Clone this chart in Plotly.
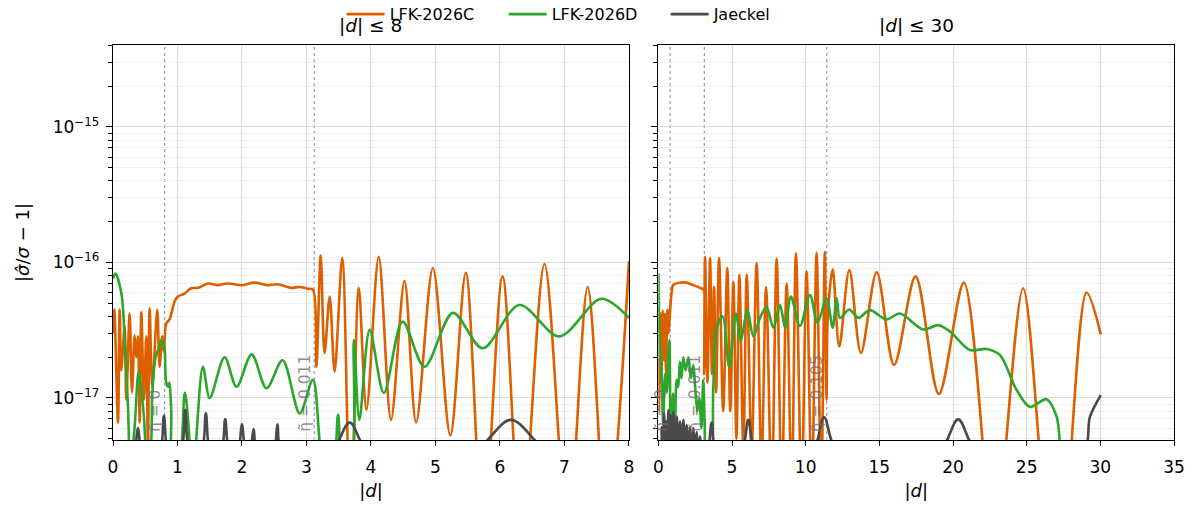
import plotly.graph_objects as go

# ---------------- data: left panel (|d| <= 8) ----------------
d_C_L = [0.0, 0.02, 0.077, 0.103, 0.129, 0.181, 0.206, 0.258, 0.294, 0.335,
         0.361, 0.387, 0.413, 0.439, 0.48, 0.516, 0.542, 0.568, 0.609, 0.686,
         0.722, 0.764, 0.789, 0.826, 0.877, 0.955, 1.006, 1.11, 1.21, 1.32,
         1.47, 1.62, 1.78, 1.99, 2.19, 2.4, 2.55, 2.76, 2.9, 3.02,
         3.10, 3.153, 3.22, 3.28, 3.36, 3.436, 3.555, 3.684, 3.81, 3.93,
         4.12, 4.31, 4.52, 4.70, 4.96, 5.23, 5.47, 5.74, 6.04, 6.33,
         6.69, 7.05, 7.36, 7.66, 8.0]
err_C_L = [3.0e-17, 4.5e-17, 6.6e-18, 4.5e-17, 1.6e-17, 3.4e-17, 9.7e-18, 4.2e-17, 1.1e-17, 2.9e-17,
           2.0e-17, 2.85e-17, 6.6e-18, 4.3e-17, 9.7e-18, 2.85e-17, 4.0e-18, 4.6e-17, 1.2e-17, 4.5e-17,
           1.7e-17, 2.85e-17, 2.2e-17, 3.55e-17, 3.8e-17, 5.15e-17, 5.6e-17, 5.9e-17, 6.45e-17, 6.5e-17,
           7.0e-17, 6.8e-17, 7.0e-17, 6.8e-17, 7.1e-17, 6.8e-17, 6.9e-17, 6.5e-17, 6.6e-17, 6.4e-17,
           6.3e-17, 1.7e-17, 1.13e-16, 2.15e-17, 5.6e-17, 1.56e-17, 1.08e-16, 1.0e-18, 6.5e-17, 8.2e-18,
           1.1e-16, 6.9e-18, 7.3e-17, 6.6e-18, 9.1e-17, 5.3e-18, 8.4e-17, 1.0e-18, 7.9e-17, 1.0e-18,
           9.8e-17, 1.0e-18, 6.6e-17, 1.0e-18, 1.02e-16]

d_D_L = [0.0, 0.036, 0.129, 0.181, 0.232, 0.27, 0.335, 0.397, 0.439, 0.48,
         0.53, 0.568, 0.609, 0.66, 0.722, 0.748, 0.789, 0.826, 0.862, 0.877,
         0.903, 0.93, 1.01, 1.115, 1.24, 1.393, 1.50, 1.73, 1.915, 2.15,
         2.38, 2.63, 2.895, 3.10, 3.28, 3.40, 3.49, 3.57, 3.68, 3.735,
         3.82, 3.98, 4.20, 4.49, 4.83, 5.27, 5.73, 6.30, 6.92, 7.57, 8.0]
err_D_L = [7.6e-17, 8.3e-17, 5.95e-17, 2.68e-17, 8.6e-18, 3.0e-18, 6.1e-18, 1.56e-17, 1.15e-17, 7.2e-18,
           4.0e-18, 4.0e-18, 1.08e-17, 2.0e-17, 2.4e-17, 2.68e-17, 2.55e-17, 1.29e-17, 1.21e-17, 1.3e-17,
           8.0e-18, 3.0e-18, 3.0e-18, 1.09e-17, 3.0e-18, 1.7e-17, 1.0e-17, 2.0e-17, 1.21e-17, 2.1e-17,
           1.18e-17, 1.9e-17, 7.7e-18, 1.36e-17, 3.0e-18, 3.0e-18, 7.5e-18, 3.0e-18, 3.0e-18, 2.68e-17,
           6.9e-18, 3.18e-17, 1.09e-17, 3.66e-17, 1.7e-17, 4.25e-17, 2.33e-17, 4.85e-17, 2.85e-17, 5.4e-17, 3.9e-17]

d_J_L = [0.0, 0.31, 0.387, 0.46, 0.715, 0.789, 0.865, 1.045, 1.12, 1.195,
         1.365, 1.44, 1.515, 1.67, 1.74, 1.81, 1.93, 1.997, 2.065, 2.12,
         2.18, 2.24, 2.48, 2.55, 2.62, 3.37, 3.67, 3.97, 5.57, 6.17, 6.77, 8.0]
err_J_L = [4e-18, 4e-18, 6.0e-18, 4e-18, 4e-18, 7.4e-18, 4e-18, 4e-18, 8.15e-18, 4e-18,
           4e-18, 7.7e-18, 4e-18, 4e-18, 7.0e-18, 4e-18, 4e-18, 6.4e-18, 4e-18, 4e-18,
           5.9e-18, 4e-18, 4e-18, 6.4e-18, 4e-18, 4e-18, 6.6e-18, 4e-18, 4e-18, 6.9e-18, 4e-18, 4e-18]

# ---------------- data: right panel (|d| <= 30) ----------------
d_C_R = [0.0, 0.03, 0.12, 0.2, 0.3, 0.38, 0.45, 0.52, 0.61, 0.7,
         0.79, 0.9, 1.02, 1.47, 1.9, 2.3, 2.83, 3.06, 3.10, 3.17,
         3.33, 3.51, 3.64, 3.78, 3.92, 4.12, 4.4, 4.68, 4.88, 5.09,
         5.3, 5.5, 5.77, 6.0, 6.33, 6.67, 7.0, 7.31, 7.69, 8.03,
         8.37, 8.71, 9.05, 9.34, 9.72, 10.06, 10.41, 10.74, 11.05, 11.3,
         11.42, 11.5, 11.83, 12.28, 12.96, 13.75, 14.82, 16.0, 17.46, 19.04,
         20.74, 22.6, 22.8, 23.0, 24.76, 26.46, 27.0, 27.5, 29.06, 30.03]
err_C_R = [2.0e-17, 8.0e-18, 4.2e-17, 1.3e-17, 4.4e-17, 1.9e-17, 4.2e-17, 1.5e-17, 4.5e-17, 3.0e-17,
           4.3e-17, 6.0e-17, 6.85e-17, 7.1e-17, 7.1e-17, 6.85e-17, 6.5e-17, 6.3e-17, 1.5e-17, 1.1e-16,
           1.3e-17, 1.08e-16, 1.5e-17, 6.6e-17, 1.1e-17, 1.08e-16, 8.0e-18, 9.1e-17, 8.0e-18, 7.2e-17,
           5.0e-18, 8.1e-17, 4.0e-18, 8.1e-17, 4.0e-18, 9.9e-17, 3.0e-18, 6.6e-17, 2.0e-18, 1.07e-16,
           2.0e-18, 7.0e-17, 2.0e-18, 1.17e-16, 2.0e-18, 8.6e-17, 2.0e-18, 1.18e-16, 2.0e-18, 1.2e-16,
           9.7e-18, 4.0e-17, 8.9e-17, 2.4e-17, 8.8e-17, 2.15e-17, 8.5e-17, 1.75e-17, 7.9e-17, 1.07e-17,
           7.1e-17, 1.0e-18, 3.0e-18, 1.0e-18, 6.45e-17, 1.0e-18, 3.0e-18, 1.0e-18, 6.0e-17, 2.95e-17]

d_D_R = [0.0, 0.08, 0.16, 0.25, 0.33, 0.45, 0.57, 0.68, 0.75, 0.84,
         1.0, 1.12, 1.24, 1.35, 1.46, 1.57, 1.69, 1.85, 2.04, 2.2,
         2.37, 2.5, 2.65, 2.78, 2.92, 3.05, 3.15, 3.28, 3.5, 3.73,
         3.96, 4.37, 4.8, 5.27, 5.59, 6.04, 6.45, 6.9, 7.35, 7.8,
         8.26, 8.6, 9.0, 9.61, 10.29, 10.8, 11.42, 11.83, 12.1, 12.33,
         12.96, 13.57, 14.36, 15.49, 16.4, 17.98, 19.0, 19.79, 21.15, 22.28,
         23.18, 24.31, 25.22, 26.35, 27.03, 27.5, 28.5, 30.0]
err_D_R = [8.3e-17, 3.0e-17, 1.9e-17, 1.1e-17, 6.5e-18, 1.5e-17, 1.1e-17, 2.2e-17, 2.68e-17, 5.0e-18,
           1.08e-17, 6.0e-18, 1.36e-17, 1.2e-17, 1.85e-17, 1.4e-17, 2.0e-17, 1.6e-17, 2.0e-17, 1.4e-17,
           1.75e-17, 1.2e-17, 8.0e-18, 1.0e-17, 6.0e-18, 1.36e-17, 6.0e-18, 2.0e-18, 2.0e-18, 1.2e-17,
           3.3e-17, 4.0e-17, 1.7e-17, 4.2e-17, 2.68e-17, 4.4e-17, 2.85e-17, 3.9e-17, 4.7e-17, 3.3e-17,
           4.85e-17, 3.3e-17, 5.6e-17, 3.4e-17, 5.75e-17, 3.6e-17, 5.45e-17, 3.3e-17, 5.45e-17, 3.9e-17,
           4.5e-17, 3.9e-17, 4.45e-17, 3.8e-17, 4.2e-17, 3.2e-17, 3.45e-17, 3.1e-17, 2.26e-17, 2.3e-17,
           2.08e-17, 1.15e-17, 8.6e-18, 9.8e-18, 7.3e-18, 3.0e-18, 2.0e-18, 2.0e-18]

d_J_R = [0.0, 0.15, 0.23, 0.31, 0.39, 0.455, 0.52, 0.6, 0.68, 0.76,
         0.84, 0.93, 1.02, 1.135, 1.25, 1.36, 1.47, 1.585, 1.7, 1.81,
         1.92, 2.035, 2.15, 2.265, 2.38, 2.49, 2.6, 2.715, 2.83, 2.95,
         3.3, 3.62, 3.95, 5.6, 6.11, 6.65, 10.4, 11.25, 12.2, 19.0,
         20.35, 21.7, 28.8, 29.3, 30.03]
err_J_R = [4e-18, 4e-18, 6.1e-18, 4e-18, 7.7e-18, 4e-18, 6.7e-18, 4e-18, 8.15e-18, 4e-18,
           7.5e-18, 4e-18, 7.9e-18, 4e-18, 7.3e-18, 4e-18, 6.7e-18, 4e-18, 6.9e-18, 4e-18,
           6.3e-18, 4e-18, 6.1e-18, 4e-18, 6.0e-18, 4e-18, 5.6e-18, 4e-18, 5.2e-18, 4e-18,
           4e-18, 6.6e-18, 4e-18, 4e-18, 6.9e-18, 4e-18, 4e-18, 7.2e-18, 4e-18, 4e-18,
           6.95e-18, 4e-18, 4e-18, 7.3e-18, 1.05e-17]

# markers of eta values
eta_d_L = [0.80, 3.12]
eta_lab_L = ["η̃ = 0", "η̃ = 0.011"]
eta_d_R = [0.80, 3.12, 11.43]
eta_lab_R = ["η̃ = 0", "η̃ = 0.011", "η̃ = 0.105"]

series_names = ["LFK-2026C", "LFK-2026D", "Jaeckel"]
colors = ["#dd5f00", "#2ca62c", "#4a4a4a"]

y_major = [1e-17, 1e-16, 1e-15]
y_major_text = ["10<sup>−17</sup>", "10<sup>−16</sup>", "10<sup>−15</sup>"]
y_minor = [m * 10.0 ** e for e in (-18, -17, -16, -15) for m in range(2, 10)]

FONT = "DejaVu Sans"
TICK = 17
fig = go.Figure()

left = [(d_C_L, err_C_L), (d_D_L, err_D_L), (d_J_L, err_J_L)]
right = [(d_C_R, err_C_R), (d_D_R, err_D_R), (d_J_R, err_J_R)]

for i, (xs, ys) in enumerate(left):
    fig.add_trace(go.Scatter(x=xs, y=ys, mode="lines", name=series_names[i],
                             line=dict(color=colors[i], width=2.6, shape="spline", smoothing=0.9),
                             xaxis="x", yaxis="y", legendgroup=series_names[i]))
for i, (xs, ys) in enumerate(right):
    fig.add_trace(go.Scatter(x=xs, y=ys, mode="lines", name=series_names[i], showlegend=False,
                             line=dict(color=colors[i], width=2.6, shape="spline", smoothing=0.9),
                             xaxis="x2", yaxis="y2", legendgroup=series_names[i]))

common = dict(showline=True, linecolor="black", linewidth=1.4, mirror=True,
              ticks="outside", tickwidth=1.1, tickcolor="black",
              showgrid=True, gridcolor="#dcdcdc", gridwidth=1, zeroline=False,
              tickfont=dict(family=FONT, size=TICK, color="black"))

xtitle = dict(text="|<i>d</i>|", font=dict(family=FONT, size=18, color="black"), standoff=8)

yaxis_common = dict(type="log", range=[-17.31, -14.395], tickmode="array",
                    tickvals=y_major, ticktext=y_major_text, ticklen=6, ticklabelstandoff=3,
                    minor=dict(tickmode="array", tickvals=y_minor, ticks="outside", ticklen=4,
                               tickcolor="black", tickwidth=0.9, showgrid=True,
                               gridcolor="#efefef", gridwidth=1))

shapes = []
annotations = []
for xr, ds, labs in (("x", eta_d_L, eta_lab_L), ("x2", eta_d_R, eta_lab_R)):
    yr = "y domain" if xr == "x" else "y2 domain"
    for dv, lab in zip(ds, labs):
        shapes.append(dict(type="line", xref=xr, yref=yr, x0=dv, x1=dv, y0=0, y1=1,
                           line=dict(color="#9a9a9a", width=1.2, dash="dot"), layer="below"))
        annotations.append(dict(x=dv, xref=xr, y=0, yref=yr, text=lab, showarrow=False,
                                textangle=-90, xanchor="right", yanchor="bottom",
                                xshift=1, yshift=6,
                                font=dict(family=FONT, size=15.5, color="rgba(110,110,110,0.8)")))

annotations.append(dict(x=0.2431, xref="paper", y=1, yref="paper", text="|<i>d</i>| ≤ 8",
                        showarrow=False, xanchor="center", yanchor="bottom", yshift=7,
                        font=dict(family=FONT, size=18.5, color="black")))
annotations.append(dict(x=0.757, xref="paper", y=1, yref="paper", text="|<i>d</i>| ≤ 30",
                        showarrow=False, xanchor="center", yanchor="bottom", yshift=7,
                        font=dict(family=FONT, size=18.5, color="black")))

fig.update_layout(
    width=1199, height=510,
    margin=dict(l=113, r=25, t=45, b=70, autoexpand=False),
    paper_bgcolor="white", plot_bgcolor="white",
    font=dict(family=FONT, size=TICK, color="black"),
    xaxis=dict(domain=[0, 0.4863], range=[0, 8], tickmode="linear", tick0=0, dtick=1,
               anchor="y", title=xtitle, ticklen=5, ticklabelstandoff=6, **common),
    xaxis2=dict(domain=[0.514, 1], range=[0, 35], tickmode="linear", tick0=0, dtick=5,
                anchor="y2", title=xtitle, ticklen=5, ticklabelstandoff=6, **common),
    yaxis=dict(anchor="x", title=dict(text="|<i>σ̂</i>/<i>σ</i> − 1|",
                                     font=dict(family=FONT, size=18, color="black"), standoff=18),
               **yaxis_common, **common),
    yaxis2=dict(anchor="x2", matches="y", showticklabels=False,
                **yaxis_common, **common),
    legend=dict(orientation="h", x=0.2155, xanchor="left", y=1.078, yanchor="middle",
                bgcolor="rgba(0,0,0,0)", font=dict(family=FONT, size=16, color="black"),
                itemwidth=38, entrywidth=109, entrywidthmode="pixels"),
    shapes=shapes, annotations=annotations,
)

# remove the default page margin so the 1199x510 figure sits at the window origin
fig.write_html("out.html", config={"displayModeBar": False},
               post_script="document.body.style.margin='0px';")
